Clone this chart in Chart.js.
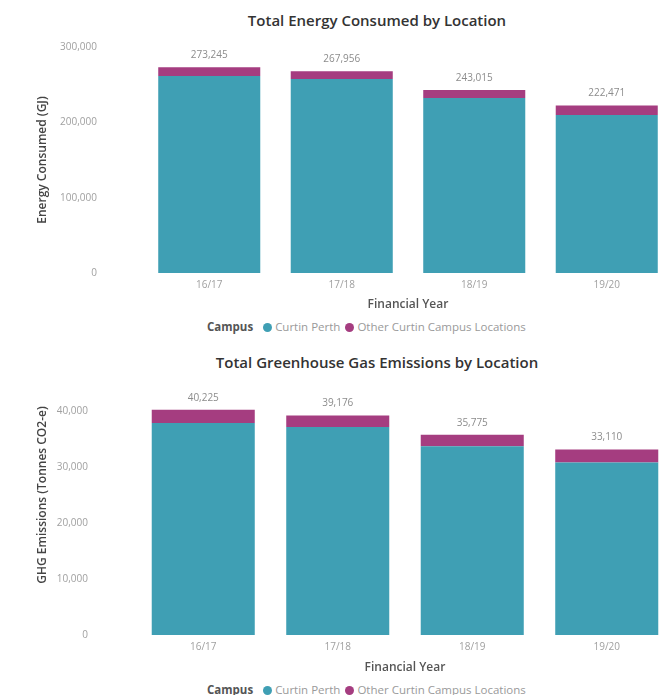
<!DOCTYPE html>
<html>
<head>
<meta charset="utf-8">
<script src="https://cdn.jsdelivr.net/npm/chart.js@4.4.1/dist/chart.umd.min.js"></script>
<style>
    body { margin: 0; background: #fff; overflow: hidden; width: 669px; height: 695px; position: relative; font-family: "Open Sans", sans-serif; }
    .titulo { position: absolute; left: 177px; width: 400px; text-align: center; font-size: 15px; font-weight: 600; color: #333; line-height: 20px; white-space: nowrap; }
    .legenda { position: absolute; left: 207px; height: 16px; line-height: 16px; font-size: 11.5px; color: #9a9a9a; white-space: nowrap; display: flex; align-items: center; }
    .legenda b { color: #555; font-weight: 700; margin-right: 10px; }
    .legenda i { display: inline-block; width: 9px; height: 9px; border-radius: 50%; margin-right: 3px; }
    .legenda span { margin-right: 5px; }
    .caixa { position: absolute; left: 0; width: 676px; }
</style>
</head>
<body>
<div class="titulo" style="top:10px">Total Energy Consumed by Location</div>
<div class="caixa" style="top:0; height:312px"><canvas id="grafico-energia"></canvas></div>
<div class="legenda" style="top:319px"><b>Campus</b><i style="background:#3f9fb4"></i><span>Curtin Perth</span><i style="background:#a53d80"></i><span>Other Curtin Campus Locations</span></div>

<div class="titulo" style="top:352px">Total Greenhouse Gas Emissions by Location</div>
<div class="caixa" style="top:340px; height:335px"><canvas id="grafico-ghg"></canvas></div>
<div class="legenda" style="top:682px"><b>Campus</b><i style="background:#3f9fb4"></i><span>Curtin Perth</span><i style="background:#a53d80"></i><span>Other Curtin Campus Locations</span></div>

<script>
const anos = ["16/17", "17/18", "18/19", "19/20"];

const energiaPerth = [261500, 257500, 232300, 209800];
const energiaOutros = [11745, 10456, 10715, 12671];

const ghgPerth = [37860, 37150, 33700, 30800];
const ghgOutros = [2365, 2026, 2075, 2310];

const corPerth = "#3f9fb4";
const corOutros = "#a53d80";

// total em cima de cada barra empilhada
const totais = {
    id: 'totais',
    afterDatasetsDraw(chart) {
        const ctx = chart.ctx;
        const meta = chart.getDatasetMeta(1);
        const ds = chart.data.datasets;
        ctx.save();
        ctx.font = '10px "Open Sans"';
        ctx.fillStyle = '#8c8c8c';
        ctx.textAlign = 'center';
        ctx.textBaseline = 'middle';
        meta.data.forEach(function (barra, i) {
            const total = ds[0].data[i] + ds[1].data[i];
            ctx.fillText(total.toLocaleString('en-US'), barra.x, barra.y - 12);
        });
        ctx.restore();
    }
};

function montarGrafico(id, perth, outros, cfg) {
    new Chart(document.getElementById(id), {
        type: 'bar',
        data: {
            labels: anos,
            datasets: [
                { label: "Curtin Perth", data: perth, backgroundColor: corPerth, barPercentage: cfg.barra, categoryPercentage: 1 },
                { label: "Other Curtin Campus Locations", data: outros, backgroundColor: corOutros, barPercentage: cfg.barra, categoryPercentage: 1 }
            ]
        },
        options: {
            responsive: true,
            maintainAspectRatio: false,
            animation: false,
            layout: { padding: { top: cfg.topo, right: cfg.direita, left: 0, bottom: 0 } },
            plugins: {
                legend: { display: false },
                title: { display: false },
                tooltip: { enabled: false }
            },
            scales: {
                x: {
                    stacked: true,
                    grid: { display: false, drawTicks: false },
                    border: { display: false },
                    ticks: { color: '#a0a0a0', font: { family: 'Open Sans', size: 10 }, padding: 6 },
                    title: { display: true, text: 'Financial Year', color: '#555', font: { family: 'Open Sans', size: 12, weight: '600' }, padding: { top: 0, bottom: cfg.tituloX } },
                    afterFit: function (s) { s.height = cfg.alturaX; }
                },
                y: {
                    stacked: true,
                    min: 0,
                    max: cfg.max,
                    grid: { display: false, drawTicks: false },
                    border: { display: false },
                    ticks: { stepSize: cfg.passo, color: '#a0a0a0', font: { family: 'Open Sans', size: 10 }, padding: cfg.padTicks },
                    title: { display: true, text: cfg.tituloY, color: '#444', font: { family: 'Open Sans', size: 12, weight: '600' }, padding: { top: 35, bottom: 0 } },
                    afterBuildTicks: function (s) { s.ticks = s.ticks.filter(function (t) { return t.value <= cfg.ultimo; }); },
                    afterFit: function (s) { s.width = cfg.larguraY; s.paddingTop = 0; s.paddingBottom = 0; }
                }
            }
        },
        plugins: [totais]
    });
}

montarGrafico("grafico-energia", energiaPerth, energiaOutros, {
    barra: 0.77, topo: 47, direita: 3, max: 300000, passo: 100000, ultimo: 300000,
    tituloY: 'Energy Consumed (GJ)', larguraY: 143, padTicks: 46, alturaX: 39, tituloX: 0
});

montarGrafico("grafico-ghg", ghgPerth, ghgOutros, {
    barra: 0.766, topo: 15, direita: 2, max: 50000, passo: 10000, ultimo: 40000,
    tituloY: 'GHG Emissions (Tonnes CO2-e)', larguraY: 136, padTicks: 48, alturaX: 40, tituloX: 0
});
</script>
</body>
</html>
